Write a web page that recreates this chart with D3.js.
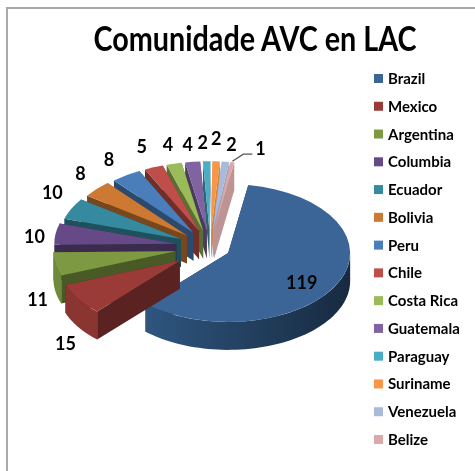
<!DOCTYPE html>
<html>
<head>
<meta charset="utf-8">
<style>
html, body { margin: 0; padding: 0; background: #fff; }
svg { display: block; filter: blur(0.4px); }
text { font-family: Lato, "Open Sans", sans-serif; font-weight: 700; fill: #000; }
</style>
</head>
<body>
<script src="https://cdnjs.cloudflare.com/ajax/libs/d3/7.8.5/d3.min.js"></script>
<script>

var title = "Comunidade AVC en LAC";
var countries = ["Brazil", "Mexico", "Argentina", "Columbia", "Ecuador", "Bolivia", "Peru", "Chile", "Costa Rica", "Guatemala", "Paraguay", "Suriname", "Venezuela", "Belize"];
var members = [119, 15, 11, 10, 10, 8, 8, 5, 4, 4, 2, 2, 2, 1];
var colors = ["#3c6597", "#9a3b38", "#7d9a43", "#654a87", "#358a9f", "#cd7933", "#4a7ebb", "#bf4e4a", "#9bbb59", "#8064a2", "#4bacc6", "#f79646", "#a9bbdb", "#dba9a9"];

var width = 475, height = 471;

// pie geometry
var cx = 203, cy = 246,
    rx = 122, flatten = 0.565,
    explode = 28, depth = 28,
    firstAngle = 9.5 * Math.PI / 180,
    backShift = 7,   // perspective pushes the far slices to the right
    frontDrop = 13;  // and the near left slices down

// where each value label sits relative to the outer middle of its slice
var labelNudge = [[-36, 6], [-13, 51], [-18, 42], [-21, 9], [-19, -10], [-16, -9], [-17, -9], [-12, -14], [-6, -13], [-5, -11], [-4, -12], [0, -16], [6, -11], [28, -7]];

var svg = d3.select("body").append("svg")
    .attr("width", width)
    .attr("height", height);

// frame
svg.append("path")
    .attr("d", "M7," + height + "V8H" + width)
    .attr("fill", "none")
    .attr("stroke", "#aaa")
    .attr("stroke-width", 2);

svg.append("text")
    .attr("x", 255)
    .attr("y", 51)
    .attr("text-anchor", "middle")
    .attr("font-size", 34)
    .attr("textLength", 323)
    .attr("lengthAdjust", "spacingAndGlyphs")
    .text(title);

var defs = svg.append("defs");
var wallGrad = defs.append("linearGradient")
    .attr("id", "brazilWall")
    .attr("gradientUnits", "userSpaceOnUse")
    .attr("x1", 144).attr("x2", 350).attr("y1", 0).attr("y2", 0);
wallGrad.append("stop").attr("offset", 0).attr("stop-color", "#2f5680");
wallGrad.append("stop").attr("offset", 1).attr("stop-color", "#172a40");

var pie = d3.pie()
    .sort(null)
    .startAngle(firstAngle)
    .endAngle(firstAngle + 2 * Math.PI);

var arcs = pie(members).map(function(d, i) {
  var mid = (d.startAngle + d.endAngle) / 2;
  d.name = countries[i];
  d.color = colors[i];
  d.mid = mid;
  d.ox = cx + Math.sin(mid) * explode + backShift * Math.max(0, Math.cos(mid));
  d.oy = cy - Math.cos(mid) * explode * flatten +
    frontDrop * Math.max(0, -Math.sin(mid)) * Math.max(0, -Math.cos(mid));
  return d;
});

var topArc = d3.arc().innerRadius(0).outerRadius(rx);

function rim(d, a) {
  return [d.ox + Math.sin(a) * rx, d.oy - Math.cos(a) * rx * flatten];
}

// wall between the apex and one straight edge of a slice
function cutWall(d, a) {
  var p = rim(d, a);
  return "M" + d.ox + "," + d.oy + "L" + p[0] + "," + p[1] +
    "L" + p[0] + "," + (p[1] + depth) + "L" + d.ox + "," + (d.oy + depth) + "Z";
}

// curved wall, only the part facing the viewer
function outerWall(d) {
  var a0 = Math.max(d.startAngle, Math.PI / 2),
      a1 = Math.min(d.endAngle, 3 * Math.PI / 2);
  if (a1 <= a0) return null;
  var n = 60, top = [], bottom = [];
  d3.range(n + 1).forEach(function(k) {
    var p = rim(d, a0 + (a1 - a0) * k / n);
    top.push(p);
    bottom.unshift([p[0], p[1] + depth]);
  });
  return d3.line()(top.concat(bottom)) + "Z";
}

// walls on the right of the far slices catch the light
function wallColor(d) {
  return d3.color(d.color).darker(Math.sin(d.mid) > 0 && Math.cos(d.mid) > 0 ? 0.4 : 1.5);
}

// back slices first, front ones paint over them
var order = arcs.slice().sort(function(a, b) {
  return d3.descending(Math.cos(a.mid), Math.cos(b.mid));
});

var slices = svg.append("g").selectAll("g")
    .data(order)
  .enter().append("g");

slices.append("path")
    .attr("d", function(d) { return cutWall(d, d.startAngle); })
    .attr("fill", wallColor);
slices.append("path")
    .attr("d", function(d) { return cutWall(d, d.endAngle); })
    .attr("fill", wallColor);
slices.filter(outerWall).append("path")
    .attr("d", outerWall)
    .attr("fill", function(d) { return d.name == "Brazil" ? "url(#brazilWall)" : d3.color(d.color).darker(0.3); });
slices.append("path")
    .attr("d", topArc)
    .attr("transform", function(d) { return "translate(" + d.ox + "," + d.oy + ") scale(1," + flatten + ")"; })
    .attr("fill", function(d) { return d.color; });

// value labels
var labels = svg.append("g").selectAll("text")
    .data(arcs)
  .enter().append("text")
    .attr("text-anchor", "middle")
    .attr("font-size", 18)
    .attr("x", function(d, i) { return rim(d, d.mid)[0] + labelNudge[i][0]; })
    .attr("y", function(d, i) { return rim(d, d.mid)[1] + labelNudge[i][1]; })
    .text(function(d) { return d.value; });

// leader for the smallest slice
var last = arcs[arcs.length - 1], lastEnd = rim(last, last.mid);
svg.append("path")
    .attr("d", d3.line()([[lastEnd[0], lastEnd[1] - 1], [lastEnd[0] + 11, lastEnd[1] - 8], [lastEnd[0] + 20, lastEnd[1] - 8]]))
    .attr("fill", "none")
    .attr("stroke", "#555")
    .attr("stroke-width", 1.2);

// legend
var legendY = d3.scalePoint().domain(countries).range([79, 440]);

var legend = svg.append("g").selectAll("g")
    .data(countries)
  .enter().append("g")
    .attr("transform", function(d) { return "translate(374," + legendY(d) + ")"; });

legend.append("rect")
    .attr("x", 0).attr("y", -5)
    .attr("width", 9).attr("height", 9)
    .attr("fill", function(d, i) { return colors[i]; });

legend.append("text")
    .attr("x", 14)
    .attr("y", 5)
    .attr("font-size", 15)
    .text(function(d) { return d; });

</script>
</body>
</html>
